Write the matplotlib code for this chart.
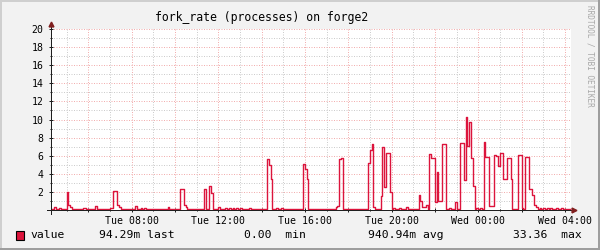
import numpy as np
import matplotlib
matplotlib.use('Agg')
import matplotlib.pyplot as plt
from matplotlib.patches import Rectangle

# samples every 5 minutes, one row per hour, first sample Tue 04:15
start_hour = 4.25
step_hours = 5 / 60
fork_rate = [
    0.1, 0.1, 0.3, 0.1, 0.1, 0.2, 0.1, 0.1, 0.1, 2.0, 0.6, 0.3,
    0.1, 0.1, 0.1, 0.1, 0.1, 0.1, 0.25, 0.25, 0.1, 0.1, 0.1, 0.1,
    0.1, 0.4, 0.1, 0.1, 0.1, 0.1, 0.1, 0.1, 0.1, 0.2, 0.2, 2.1,
    2.1, 0.5, 0.3, 0.1, 0.1, 0.1, 0.1, 0.1, 0.1, 0.1, 0.1, 0.4,
    0.1, 0.1, 0.2, 0.1, 0.2, 0.1, 0.1, 0.1, 0.1, 0.1, 0.1, 0.1,
    0.1, 0.1, 0.1, 0.1, 0.1, 0.3, 0.1, 0.1, 0.1, 0.1, 0.1, 0.1,
    2.3, 2.3, 0.5, 0.3, 0.1, 0.1, 0.1, 0.1, 0.1, 0.1, 0.1, 0.1,
    0.1, 2.3, 0.1, 0.1, 2.65, 1.9, 0.1, 0.1, 0.1, 0.3, 0.1, 0.1,
    0.1, 0.2, 0.1, 0.2, 0.1, 0.2, 0.1, 0.2, 0.1, 0.2, 0.1, 0.1,
    0.1, 0.1, 0.2, 0.1, 0.1, 0.1, 0.1, 0.1, 0.1, 0.1, 0.1, 0.1,
    5.6, 5.0, 3.4, 0.1, 0.1, 0.2, 0.1, 0.1, 0.2, 0.1, 0.1, 0.1,
    0.1, 0.1, 0.1, 0.1, 0.1, 0.1, 0.1, 0.1, 5.1, 4.5, 3.4, 0.1,
    0.1, 0.1, 0.1, 0.1, 0.1, 0.1, 0.1, 0.1, 0.1, 0.1, 0.1, 0.1,
    0.1, 0.1, 0.3, 0.4, 5.6, 5.7, 0.1, 0.1, 0.1, 0.1, 0.1, 0.1,
    0.1, 0.1, 0.1, 0.1, 0.1, 0.1, 0.1, 0.1, 5.2, 6.6, 7.3, 0.3,
    0.1, 0.1, 0.1, 1.5, 7.0, 2.5, 6.3, 6.3, 2.0, 0.1, 0.2, 0.1,
    0.1, 0.2, 0.1, 0.1, 0.1, 0.3, 0.1, 0.1, 0.1, 0.1, 0.1, 0.1,
    1.7, 1.0, 0.3, 0.3, 0.5, 0.1, 6.2, 5.7, 5.7, 0.9, 4.2, 1.0,
    1.0, 7.3, 7.3, 0.1, 0.1, 0.2, 0.1, 0.1, 0.9, 0.1, 0.1, 7.4,
    7.4, 3.3, 10.3, 7.1, 9.7, 5.7, 2.6, 0.1, 0.2, 0.1, 0.2, 0.1,
    7.5, 5.9, 5.9, 0.4, 0.4, 0.4, 6.1, 6.0, 4.9, 6.3, 6.3, 3.4,
    3.4, 5.7, 5.7, 3.4, 0.1, 0.1, 0.1, 6.1, 6.1, 0.2, 0.1, 5.9,
    5.9, 2.3, 2.3, 1.7, 0.6, 0.3, 0.1, 0.2, 0.1, 0.2, 0.1, 0.2,
    0.1, 0.2, 0.1, 0.1, 0.2, 0.1, 0.1, 0.2, 0.1, 0.1, 0.1, 0.1,
    0.094,
]

label_hours = [8, 12, 16, 20, 24, 28]
label_texts = ['Tue 08:00', 'Tue 12:00', 'Tue 16:00', 'Tue 20:00', 'Wed 00:00', 'Wed 04:00']
y_ticks = [0, 2, 4, 6, 8, 10, 12, 14, 16, 18, 20]
y_labels = ['', '2', '4', '6', '8', '10', '12', '14', '16', '18', '20']

legend_texts = ['value', '94.29m last', '0.00  min', '940.94m avg', '33.36  max']
legend_x = [30, 99, 244, 368, 513]

line_col = '#DC143C'
mono = 'DejaVu Sans Mono'

fig = plt.figure(figsize=(6, 2.5), dpi=100, facecolor='#F2F2F2')

# rrdtool style 3d frame
fig.add_artist(Rectangle((0, 1 - 2/250), 1, 2/250, transform=fig.transFigure, color='#CFCFCF', lw=0))
fig.add_artist(Rectangle((0, 0), 2/600, 1, transform=fig.transFigure, color='#CFCFCF', lw=0))
fig.add_artist(Rectangle((1 - 2/600, 0), 2/600, 1, transform=fig.transFigure, color='#9E9E9E', lw=0))
fig.add_artist(Rectangle((0, 0), 1, 2/250, transform=fig.transFigure, color='#9E9E9E', lw=0))

ax = fig.add_axes([51/600, 40/250, 520/600, 181/250])
ax.set_facecolor('white')

x = start_hour + np.arange(len(fork_rate)) * step_hours
ax.step(x, fork_rate, where='post', color=line_col, lw=1.0, zorder=3)

ax.set_xlim(4 + 17/60, 28 + 17/60)
ax.set_ylim(0, 20)

major_x = list(range(6, 29, 2))
ax.set_xticks(major_x)
ax.set_xticklabels([label_texts[label_hours.index(h)] if h in label_hours else '' for h in major_x])
ax.set_xticks(range(5, 29), minor=True)
ax.set_yticks(y_ticks)
ax.set_yticklabels(y_labels)
ax.set_yticks(range(1, 20), minor=True)

ax.grid(which='minor', color='#CDCDCD', lw=0.72, ls=(0, (1, 1.5)), zorder=1)
ax.grid(which='major', color='#F2AFAF', lw=0.72, ls=(0, (1, 1.5)), zorder=1)
ax.set_axisbelow(True)

for s in ax.spines.values():
    s.set_visible(False)

ax.tick_params(which='both', direction='inout', color='#1F1F1F', width=0.72)
ax.tick_params(which='major', length=3)
ax.tick_params(which='minor', length=1.5)
ax.tick_params(axis='x', which='major', labelsize=7.1, pad=2.5)
ax.tick_params(axis='y', which='major', labelsize=7.1, pad=4)
for lab in ax.get_xticklabels() + ax.get_yticklabels():
    lab.set_family(mono)

# axes with arrows
ax.plot([-0.008, 1.0], [0, 0], transform=ax.transAxes, color='#1F1F1F', lw=0.72, clip_on=False, zorder=4)
ax.plot([0, 0], [-0.02, 1.025], transform=ax.transAxes, color='#1F1F1F', lw=0.72, clip_on=False, zorder=4)
ax.plot([1.006], [0], marker='>', ms=3.5, color='#801F1F', transform=ax.transAxes, clip_on=False, zorder=5)
ax.plot([0], [1.03], marker='^', ms=3.5, color='#801F1F', transform=ax.transAxes, clip_on=False, zorder=5)

fig.text(261.5/600, 1 - 18/250, 'fork_rate (processes) on forge2', ha='center', va='center',
         family=mono, fontsize=8.3)
fig.text(590/600, 1 - 5/250, 'RRDTOOL / TOBI OETIKER', rotation=270, ha='center', va='top',
         family=mono, fontsize=5.6, color='#A8A8A8')

fig.add_artist(Rectangle((16/600, 1 - 240/250), 8/600, 9/250, transform=fig.transFigure,
                         facecolor=line_col, edgecolor='black', lw=0.8))
for txt, lx in zip(legend_texts, legend_x):
    fig.text(lx/600, 1 - 235.5/250, txt, ha='left', va='center', family=mono, fontsize=8.2)

fig.savefig('out.png', dpi=100, facecolor=fig.get_facecolor())
